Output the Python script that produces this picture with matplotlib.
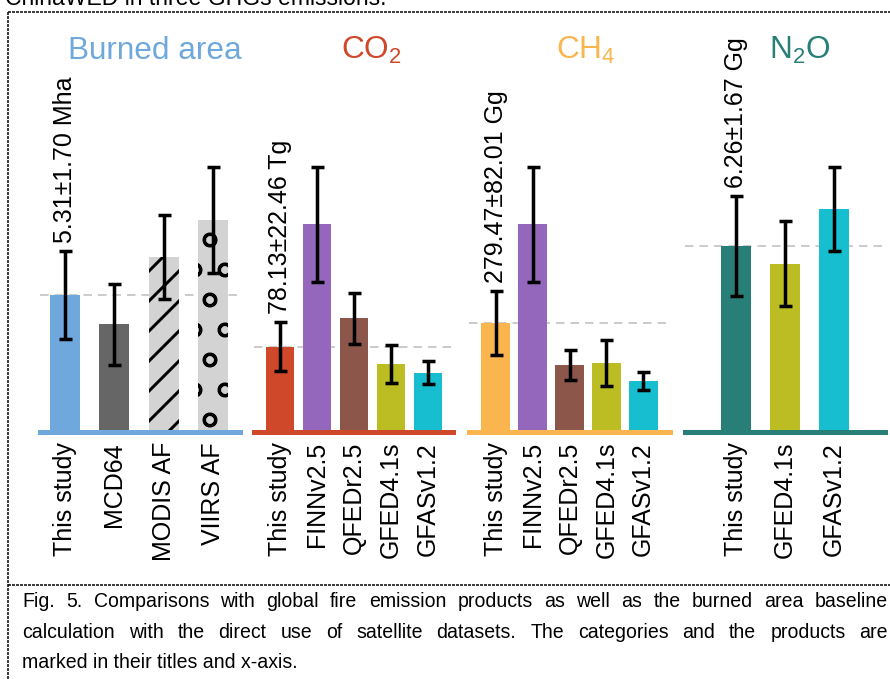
import matplotlib
matplotlib.use('Agg')
import matplotlib.pyplot as plt
import matplotlib.transforms as mtransforms
from matplotlib.lines import Line2D

plt.rcParams['font.family'] = ['Liberation Sans', 'DejaVu Sans']
plt.rcParams['mathtext.fontset'] = 'custom'
plt.rcParams['mathtext.rm'] = 'Liberation Sans'
plt.rcParams['mathtext.it'] = 'Liberation Sans:italic'
plt.rcParams['hatch.linewidth'] = 1.2
plt.rcParams['lines.scale_dashes'] = False

# Burned area (Mha)
area_names = ['This study', 'MCD64', 'MODIS AF', 'VIIRS AF']
area_vals = [5.31, 4.17, 6.77, 8.21]
area_errs = [1.70, 1.56, 1.62, 2.06]

# CO2 (Tg)
co2_names = ['This study', 'FINNv2.5', 'QFEDr2.5', 'GFED4.1s', 'GFASv1.2']
co2_vals = [78.13, 190.0, 104.0, 62.5, 54.2]
co2_errs = [22.46, 52.5, 23.4, 17.5, 10.6]

# CH4 (Gg)
ch4_names = ['This study', 'FINNv2.5', 'QFEDr2.5', 'GFED4.1s', 'GFASv1.2']
ch4_vals = [279.47, 533.0, 172.0, 177.0, 131.0]
ch4_errs = [82.01, 147.0, 38.0, 58.0, 22.0]

# N2O (Gg)
n2o_names = ['This study', 'GFED4.1s', 'GFASv1.2']
n2o_vals = [6.26, 5.66, 7.51]
n2o_errs = [1.67, 1.43, 1.41]

caption = [
    'Fig. 5. Comparisons with global fire emission products as well as the burned area baseline',
    'calculation with the direct use of satellite datasets. The categories and the products are',
    'marked in their titles and x-axis.',
]
prev_line = 'ChinaWED in three GHGs emissions.'

BLUE, RED, ORANGE, TEAL = '#6fa8dc', '#cf482a', '#fbb54f', '#277f77'
PURPLE, BROWN, OLIVE, CYAN = '#9467bd', '#8c564b', '#bcbd22', '#17becf'
LGRAY = '#d3d3d3'

DPI = 180
W, H = 890, 679
fig = plt.figure(figsize=(W / DPI, H / DPI), dpi=DPI)


def rect(x0, x1, ytop, ybot):
    return [x0 / W, 1 - ybot / H, (x1 - x0) / W, (ybot - ytop) / H]


panels = [
    dict(title='Burned area', color=BLUE, names=area_names, vals=area_vals,
         errs=area_errs, unit='Mha', fills=[BLUE, '#666666', LGRAY, LGRAY],
         hatches=[None, None, '//', 'o'], px=(40, 240), xlim=(-0.51, 3.55),
         width=0.61, title_x=155),
    dict(title=r'CO$_\mathregular{2}$', color=RED, names=co2_names, vals=co2_vals,
         errs=co2_errs, unit='Tg', fills=[RED, PURPLE, BROWN, OLIVE, CYAN],
         hatches=[None] * 5, px=(254, 453), xlim=(-0.70, 4.68),
         width=0.76, title_x=371),
    dict(title=r'CH$_\mathregular{4}$', color=ORANGE, names=ch4_names, vals=ch4_vals,
         errs=ch4_errs, unit='Gg', fills=[ORANGE, PURPLE, BROWN, OLIVE, CYAN],
         hatches=[None] * 5, px=(469, 670), xlim=(-0.73, 4.73),
         width=0.79, title_x=586),
    dict(title=r'N$_\mathregular{2}$O', color=TEAL, names=n2o_names, vals=n2o_vals,
         errs=n2o_errs, unit='Gg', fills=[TEAL, OLIVE, CYAN],
         hatches=[None] * 3, px=(685, 885), xlim=(-1.04, 3.04),
         width=0.60, title_x=800),
]

# shift for the value labels: a few points above the error cap
lift = mtransforms.ScaledTranslation(0, 3.2 / 72, fig.dpi_scale_trans)

for p in panels:
    ax = fig.add_axes(rect(p['px'][0], p['px'][1], 150, 432))
    x = list(range(len(p['vals'])))
    for xi, v, c, h in zip(x, p['vals'], p['fills'], p['hatches']):
        ax.bar(xi, v, width=p['width'], color=c, hatch=h,
               edgecolor='black' if h else c, linewidth=0, zorder=1)
    ax.errorbar(x, p['vals'], yerr=p['errs'], fmt='none', ecolor='black',
                elinewidth=1.4, capsize=2.6, capthick=1.4, zorder=3)
    # reference line at this study's estimate
    ax.axhline(p['vals'][0], color='#cccccc', lw=0.8, ls=(0, (3.4, 2.4)), zorder=0)
    ax.text(0, p['vals'][0] + p['errs'][0],
            f"{p['vals'][0]:.2f}±{p['errs'][0]:.2f} {p['unit']}",
            rotation=90, ha='center', va='bottom', fontsize=10,
            transform=ax.transData + lift, zorder=4)

    top = max(v + e for v, e in zip(p['vals'], p['errs']))
    ax.set_ylim(0, top * 1.064)
    ax.set_xlim(*p['xlim'])
    ax.set_xticks(x)
    ax.set_xticklabels(p['names'], rotation=90, fontsize=10)
    ax.tick_params(axis='x', length=0, pad=4)
    ax.set_yticks([])
    for s in ['top', 'left', 'right']:
        ax.spines[s].set_visible(False)
    ax.spines['bottom'].set_color(p['color'])
    ax.spines['bottom'].set_linewidth(2)
    ax.patch.set_alpha(0)

    fig.text(p['title_x'] / W, 1 - 59 / H, p['title'], color=p['color'],
             fontsize=12.6, ha='center', va='baseline')

# dashed frame around the figure and caption divider
frame = dict(transform=fig.transFigure, color='black', lw=0.6, ls=(0, (1.2, 0.4)))
fig.add_artist(Line2D([8 / W, 1], [1 - 12 / H] * 2, **frame))
fig.add_artist(Line2D([8 / W, 8 / W], [1 - 12 / H, 0], **frame))
fig.add_artist(Line2D([8 / W, 1], [1 - 585 / H] * 2, **frame))

# tail of the preceding paragraph, cut by the page edge
fig.text(5 / W, 1 - 5 / H, prev_line, fontsize=9.2, ha='left', va='baseline')

# justified caption
renderer = fig.canvas.get_renderer()
x_left, x_right = 22, 888
cap_size = 7.8
for i, line in enumerate(caption):
    y = 1 - (607 + 30.5 * i) / H
    if i == len(caption) - 1:
        fig.text(x_left / W, y, line, fontsize=cap_size, ha='left', va='baseline')
        continue
    words = line.split()
    texts = [fig.text(0, y, w, fontsize=cap_size, ha='left', va='baseline') for w in words]
    widths = [t.get_window_extent(renderer).width for t in texts]
    gap = (x_right - x_left - sum(widths)) / (len(words) - 1)
    xp = x_left
    for t, w in zip(texts, widths):
        t.set_x(xp / W)
        xp += w + gap

fig.savefig('out.png', dpi=DPI)
